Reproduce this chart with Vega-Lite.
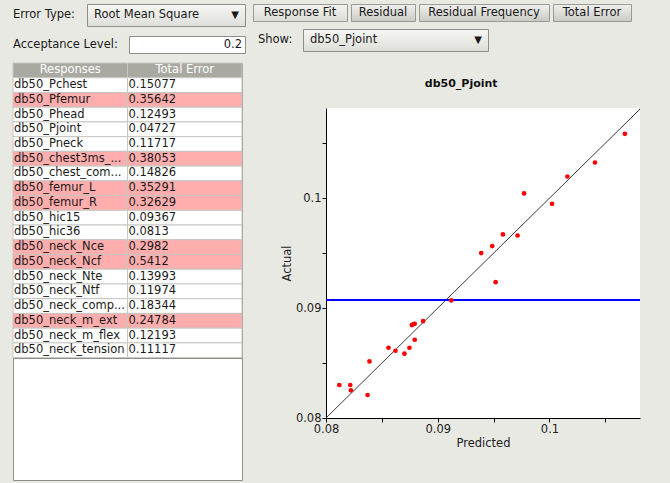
{
  "$schema": "https://vega.github.io/schema/vega-lite/v6.json",
  "background": "#e9e9e4",
  "padding": {"left": 12, "top": 3, "right": 30, "bottom": 4},
  "config": {
    "view": {"stroke": null},
    "font": "DejaVu Sans",
    "text": {"font": "DejaVu Sans", "fontSize": 11.5, "fill": "#1a1a1a"},
    "axis": {"labelFont": "DejaVu Sans", "titleFont": "DejaVu Sans"}
  },
  "datasets": {
    "table": [
      {"Responses": "Responses", "Total Error": "Total Error", "flag": "header"},
      {"Responses": "db50_Pchest", "Total Error": "0.15077", "flag": "ok"},
      {"Responses": "db50_Pfemur", "Total Error": "0.35642", "flag": "high"},
      {"Responses": "db50_Phead", "Total Error": "0.12493", "flag": "ok"},
      {"Responses": "db50_Pjoint", "Total Error": "0.04727", "flag": "ok"},
      {"Responses": "db50_Pneck", "Total Error": "0.11717", "flag": "ok"},
      {"Responses": "db50_chest3ms_...", "Total Error": "0.38053", "flag": "high"},
      {"Responses": "db50_chest_com...", "Total Error": "0.14826", "flag": "ok"},
      {"Responses": "db50_femur_L", "Total Error": "0.35291", "flag": "high"},
      {"Responses": "db50_femur_R", "Total Error": "0.32629", "flag": "high"},
      {"Responses": "db50_hic15", "Total Error": "0.09367", "flag": "ok"},
      {"Responses": "db50_hic36", "Total Error": "0.0813", "flag": "ok"},
      {"Responses": "db50_neck_Nce", "Total Error": "0.2982", "flag": "high"},
      {"Responses": "db50_neck_Ncf", "Total Error": "0.5412", "flag": "high"},
      {"Responses": "db50_neck_Nte", "Total Error": "0.13993", "flag": "ok"},
      {"Responses": "db50_neck_Ntf", "Total Error": "0.11974", "flag": "ok"},
      {"Responses": "db50_neck_comp...", "Total Error": "0.18344", "flag": "ok"},
      {"Responses": "db50_neck_m_ext", "Total Error": "0.24784", "flag": "high"},
      {"Responses": "db50_neck_m_flex", "Total Error": "0.12193", "flag": "ok"},
      {"Responses": "db50_neck_tension", "Total Error": "0.11117", "flag": "ok"}
    ],
    "pts": [
      {"p": 0.08119, "a": 0.0830},
      {"p": 0.08217, "a": 0.0830},
      {"p": 0.08223, "a": 0.08252},
      {"p": 0.08372, "a": 0.08209},
      {"p": 0.08389, "a": 0.08515},
      {"p": 0.08559, "a": 0.08639},
      {"p": 0.08622, "a": 0.08612},
      {"p": 0.08702, "a": 0.08585},
      {"p": 0.08747, "a": 0.08639},
      {"p": 0.08768, "a": 0.08845},
      {"p": 0.08782, "a": 0.08855},
      {"p": 0.08794, "a": 0.08857},
      {"p": 0.08794, "a": 0.08712},
      {"p": 0.08869, "a": 0.08882},
      {"p": 0.09121, "a": 0.0907},
      {"p": 0.09389, "a": 0.0950},
      {"p": 0.09488, "a": 0.09564},
      {"p": 0.09518, "a": 0.09236},
      {"p": 0.09583, "a": 0.0967},
      {"p": 0.09714, "a": 0.0966},
      {"p": 0.09773, "a": 0.10043},
      {"p": 0.10023, "a": 0.09948},
      {"p": 0.1016, "a": 0.10197},
      {"p": 0.10407, "a": 0.10324},
      {"p": 0.10675, "a": 0.10585}
    ],
    "diag": [{"p": 0.08, "a": 0.08}, {"p": 0.1085, "a": 0.1085}],
    "hline": [{"a": 0.09073}]
  },
  "hconcat": [
    {
      "spacing": 8,
      "vconcat": [
        {
          "spacing": 5,
          "hconcat": [
            {
              "width": 68, "height": 22,
              "data": {"values": [{"t": "Error Type:"}]},
              "mark": {"type": "text", "align": "left", "baseline": "middle"},
              "encoding": {
                "x": {"field": "t", "type": "nominal", "axis": null, "bandPosition": 0, "scale": {"type": "band", "paddingInner": 0, "paddingOuter": 0}},
                "y": {"field": "t", "type": "nominal", "axis": null, "scale": {"type": "band", "paddingInner": 0, "paddingOuter": 0}},
                "text": {"field": "t"}
              }
            },
            {
              "width": 158, "height": 22,
              "view": {"fill": {"gradient": "linear", "x1": 0, "y1": 0, "x2": 0, "y2": 1, "stops": [{"offset": 0, "color": "#f6f6f4"}, {"offset": 1, "color": "#deded9"}]}, "stroke": "#8e8e8a"},
              "data": {"values": [{"t": "Root Mean Square"}]},
              "encoding": {
                "y": {"field": "t", "type": "nominal", "axis": null, "scale": {"type": "band", "paddingInner": 0, "paddingOuter": 0}}
              },
              "layer": [
                {
                  "mark": {"type": "text", "align": "left", "baseline": "middle", "dx": 7},
                  "encoding": {
                    "x": {"field": "t", "type": "nominal", "axis": null, "bandPosition": 0, "scale": {"type": "band", "paddingInner": 0, "paddingOuter": 0}},
                    "text": {"field": "t"}
                  }
                },
                {
                  "mark": {"type": "text", "align": "right", "baseline": "middle", "dx": -6, "fontSize": 10},
                  "encoding": {
                    "x": {"field": "t", "type": "nominal", "axis": null, "bandPosition": 1, "scale": {"type": "band", "paddingInner": 0, "paddingOuter": 0}},
                    "text": {"value": "▼"}
                  }
                }
              ]
            }
          ]
        },
        {
          "spacing": 5,
          "hconcat": [
            {
              "width": 110, "height": 17,
              "data": {"values": [{"t": "Acceptance Level:"}]},
              "mark": {"type": "text", "align": "left", "baseline": "middle"},
              "encoding": {
                "x": {"field": "t", "type": "nominal", "axis": null, "bandPosition": 0, "scale": {"type": "band", "paddingInner": 0, "paddingOuter": 0}},
                "y": {"field": "t", "type": "nominal", "axis": null, "scale": {"type": "band", "paddingInner": 0, "paddingOuter": 0}},
                "text": {"field": "t"}
              }
            },
            {
              "width": 116, "height": 17,
              "view": {"fill": "#ffffff", "stroke": "#8e8e8a"},
              "data": {"values": [{"t": "0.2"}]},
              "mark": {"type": "text", "align": "right", "baseline": "middle", "dx": -3},
              "encoding": {
                "x": {"field": "t", "type": "nominal", "axis": null, "bandPosition": 1, "scale": {"type": "band", "paddingInner": 0, "paddingOuter": 0}},
                "y": {"field": "t", "type": "nominal", "axis": null, "scale": {"type": "band", "paddingInner": 0, "paddingOuter": 0}},
                "text": {"field": "t"}
              }
            }
          ]
        },
        {
          "spacing": 0,
          "bounds": "flush",
          "vconcat": [
            {
              "width": 229, "height": {"step": 14.73},
              "view": {"fill": "#ffffff", "stroke": "#8e8e8a"},
              "data": {"name": "table"},
              "transform": [{"fold": ["Responses", "Total Error"], "as": ["col", "val"]}],
              "encoding": {
                "x": {"field": "col", "type": "nominal", "axis": null, "sort": ["Responses", "Total Error"], "scale": {"type": "band", "paddingInner": 0, "paddingOuter": 0}},
                "y": {"field": "Responses", "type": "nominal", "axis": null, "sort": null, "scale": {"type": "band", "paddingInner": 0, "paddingOuter": 0}}
              },
              "layer": [
                {
                  "mark": {"type": "rect", "stroke": "#c6c6c2", "strokeWidth": 1},
                  "encoding": {
                    "fill": {"field": "flag", "type": "nominal", "legend": null, "scale": {"domain": ["header", "high", "ok"], "range": ["#a9a9a2", "#ffadad", "#ffffff"]}}
                  }
                },
                {
                  "mark": {"type": "text", "baseline": "middle", "align": "left", "dx": 1},
                  "encoding": {
                    "x": {"field": "col", "type": "nominal", "bandPosition": 0, "axis": null, "sort": ["Responses", "Total Error"], "scale": {"type": "band", "paddingInner": 0, "paddingOuter": 0}},
                    "text": {"field": "val"},
                    "opacity": {"condition": {"test": "datum.flag == 'header'", "value": 0}, "value": 1}
                  }
                },
                {
                  "mark": {"type": "text", "baseline": "middle", "align": "center", "fill": "#ffffff"},
                  "encoding": {
                    "text": {"field": "val"},
                    "opacity": {"condition": {"test": "datum.flag == 'header'", "value": 1}, "value": 0}
                  }
                }
              ]
            },
            {
              "width": 229, "height": 122,
              "view": {"fill": "#ffffff", "stroke": "#8e8e8a"},
              "data": {"values": []},
              "mark": "text"
            }
          ]
        }
      ]
    },
    {
      "spacing": 26,
      "vconcat": [
        {
          "spacing": 6,
          "vconcat": [
            {
              "spacing": 2,
              "hconcat": [
                {
                  "width": 94, "height": 17,
                  "view": {"fill": {"gradient": "linear", "x1": 0, "y1": 0, "x2": 0, "y2": 1, "stops": [{"offset": 0, "color": "#f2f2ef"}, {"offset": 1, "color": "#dcdcd7"}]}, "stroke": "#9a9a96"},
                  "data": {"values": [{"t": "Response Fit"}]},
                  "mark": {"type": "text", "align": "center", "baseline": "middle"},
                  "encoding": {"text": {"field": "t"}}
                },
                {
                  "width": 64, "height": 17,
                  "view": {"fill": {"gradient": "linear", "x1": 0, "y1": 0, "x2": 0, "y2": 1, "stops": [{"offset": 0, "color": "#f0f0ee"}, {"offset": 1, "color": "#c9c9c4"}]}, "stroke": "#9a9a96"},
                  "data": {"values": [{"t": "Residual"}]},
                  "mark": {"type": "text", "align": "center", "baseline": "middle"},
                  "encoding": {"text": {"field": "t"}}
                },
                {
                  "width": 130, "height": 17,
                  "view": {"fill": {"gradient": "linear", "x1": 0, "y1": 0, "x2": 0, "y2": 1, "stops": [{"offset": 0, "color": "#f0f0ee"}, {"offset": 1, "color": "#c9c9c4"}]}, "stroke": "#9a9a96"},
                  "data": {"values": [{"t": "Residual Frequency"}]},
                  "mark": {"type": "text", "align": "center", "baseline": "middle"},
                  "encoding": {"text": {"field": "t"}}
                },
                {
                  "width": 78, "height": 17,
                  "view": {"fill": {"gradient": "linear", "x1": 0, "y1": 0, "x2": 0, "y2": 1, "stops": [{"offset": 0, "color": "#f0f0ee"}, {"offset": 1, "color": "#c9c9c4"}]}, "stroke": "#9a9a96"},
                  "data": {"values": [{"t": "Total Error"}]},
                  "mark": {"type": "text", "align": "center", "baseline": "middle"},
                  "encoding": {"text": {"field": "t"}}
                }
              ]
            },
            {
              "spacing": 5,
              "hconcat": [
                {
                  "width": 44, "height": 22,
                  "data": {"values": [{"t": "Show:"}]},
                  "mark": {"type": "text", "align": "left", "baseline": "middle", "dx": 5},
                  "encoding": {
                    "x": {"field": "t", "type": "nominal", "axis": null, "bandPosition": 0, "scale": {"type": "band", "paddingInner": 0, "paddingOuter": 0}},
                    "y": {"field": "t", "type": "nominal", "axis": null, "scale": {"type": "band", "paddingInner": 0, "paddingOuter": 0}},
                    "text": {"field": "t"}
                  }
                },
                {
                  "width": 185, "height": 22,
                  "view": {"fill": {"gradient": "linear", "x1": 0, "y1": 0, "x2": 0, "y2": 1, "stops": [{"offset": 0, "color": "#f6f6f4"}, {"offset": 1, "color": "#deded9"}]}, "stroke": "#8e8e8a"},
                  "data": {"values": [{"t": "db50_Pjoint"}]},
                  "encoding": {
                    "y": {"field": "t", "type": "nominal", "axis": null, "scale": {"type": "band", "paddingInner": 0, "paddingOuter": 0}}
                  },
                  "layer": [
                    {
                      "mark": {"type": "text", "align": "left", "baseline": "middle", "dx": 7},
                      "encoding": {
                        "x": {"field": "t", "type": "nominal", "axis": null, "bandPosition": 0, "scale": {"type": "band", "paddingInner": 0, "paddingOuter": 0}},
                        "text": {"field": "t"}
                      }
                    },
                    {
                      "mark": {"type": "text", "align": "right", "baseline": "middle", "dx": -6, "fontSize": 10},
                      "encoding": {
                        "x": {"field": "t", "type": "nominal", "axis": null, "bandPosition": 1, "scale": {"type": "band", "paddingInner": 0, "paddingOuter": 0}},
                        "text": {"value": "▼"}
                      }
                    }
                  ]
                }
              ]
            }
          ]
        },
        {
          "spacing": 5,
          "bounds": "flush",
          "hconcat": [
            {
              "width": 68, "height": 10,
              "data": {"values": []},
              "mark": "text"
            },
            {
              "width": 314, "height": 310,
              "view": {"fill": "#ffffff", "stroke": null},
              "title": {"text": "db50_Pjoint", "fontSize": 11, "fontWeight": "bold", "font": "DejaVu Sans", "color": "#111111", "frame": "bounds", "anchor": "middle", "offset": 19},
              "layer": [
                {
                  "data": {"name": "diag"},
                  "mark": {"type": "line", "color": "#3a3a3a", "strokeWidth": 1, "clip": true},
                  "encoding": {
                    "x": {"field": "p", "type": "quantitative", "scale": {"domain": [0.08, 0.1081], "nice": false, "zero": false}},
                    "y": {"field": "a", "type": "quantitative", "scale": {"domain": [0.08, 0.1082], "nice": false, "zero": false}}
                  }
                },
                {
                  "data": {"name": "hline"},
                  "mark": {"type": "rule", "color": "#0000ff", "strokeWidth": 2},
                  "encoding": {
                    "y": {"field": "a", "type": "quantitative"}
                  }
                },
                {
                  "data": {"name": "pts"},
                  "mark": {"type": "point", "filled": true, "color": "#ff0000", "size": 22, "opacity": 1},
                  "encoding": {
                    "x": {"field": "p", "type": "quantitative", "title": "Predicted",
                      "axis": {"values": [0.08, 0.085, 0.09, 0.095, 0.1, 0.105], "labelExpr": "(round(datum.value*1000) % 10 == 0) ? format(datum.value, '~g') : ''", "grid": false, "domainColor": "#000000", "tickColor": "#000000", "tickSize": 4, "labelFontSize": 11.5, "labelColor": "#222222", "titleFontSize": 11.5, "titleFontWeight": "normal", "titleColor": "#222222", "labelPadding": 1, "titlePadding": 3, "labelFlush": false, "labelOverlap": false}},
                    "y": {"field": "a", "type": "quantitative", "title": "Actual",
                      "axis": {"values": [0.08, 0.085, 0.09, 0.095, 0.1, 0.105], "labelExpr": "(round(datum.value*1000) % 10 == 0) ? format(datum.value, '~g') : ''", "grid": false, "domainColor": "#000000", "tickColor": "#000000", "tickSize": 4, "labelFontSize": 11.5, "labelColor": "#222222", "titleFontSize": 11.5, "titleFontWeight": "normal", "titleColor": "#222222", "labelPadding": 1, "titlePadding": 3, "labelFlush": false, "labelOverlap": false}}
                  }
                }
              ]
            }
          ]
        }
      ]
    }
  ],
  "spacing": 6
}
